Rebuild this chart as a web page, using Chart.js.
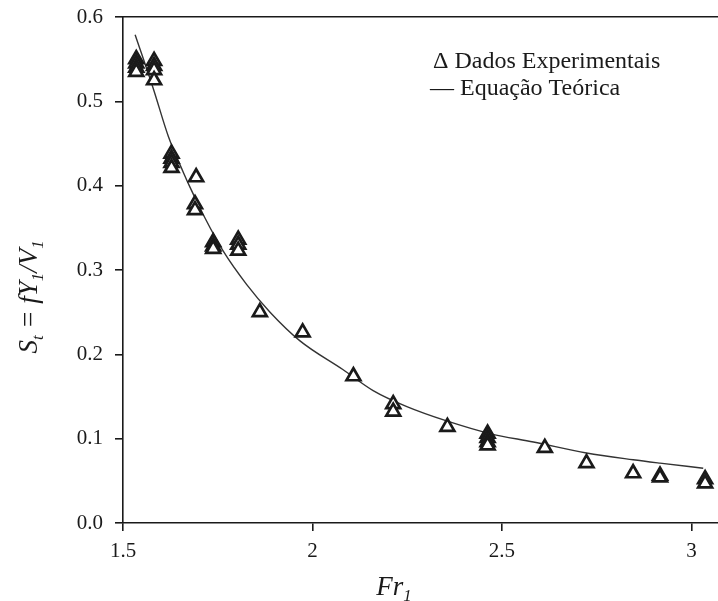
<!DOCTYPE html>
<html>
<head>
<meta charset="utf-8">
<script src="https://cdn.jsdelivr.net/npm/chart.js@4.4.1/dist/chart.umd.min.js"></script>
<style>
  html, body { margin: 0; padding: 0; background: #fff; }
  #wrap { width: 718px; height: 601px; }
</style>
</head>
<body>
<div id="wrap"><canvas id="myChart" width="718" height="601"></canvas></div>
<script>
// dados experimentais (Fr1, St)
const expFr = [1.535, 1.535, 1.535, 1.535, 1.582, 1.582, 1.582, 1.582,
               1.628, 1.628, 1.628, 1.628, 1.693, 1.690, 1.690,
               1.738, 1.738, 1.738, 1.804, 1.804, 1.804, 1.861, 1.974,
               2.108, 2.213, 2.213, 2.356, 2.462, 2.462, 2.462, 2.462,
               2.613, 2.723, 2.846, 2.917, 2.917, 3.036, 3.036];
const expSt = [0.550, 0.545, 0.540, 0.535, 0.548, 0.542, 0.537, 0.525,
               0.438, 0.432, 0.427, 0.421, 0.410, 0.378, 0.371,
               0.333, 0.328, 0.325, 0.336, 0.330, 0.323, 0.250, 0.226,
               0.174, 0.141, 0.132, 0.114, 0.106, 0.101, 0.096, 0.092,
               0.089, 0.071, 0.059, 0.056, 0.054, 0.052, 0.047];

// equação teórica
const curveFr = [1.532, 1.580, 1.620, 1.659, 1.677, 1.716, 1.765, 1.826, 1.888, 1.967,
                 2.080, 2.160, 2.249, 2.354, 2.468, 2.583, 2.723, 2.846, 2.917, 3.031];
const curveSt = [0.579, 0.515, 0.458, 0.416, 0.398, 0.362, 0.322, 0.283, 0.250, 0.216,
                 0.182, 0.157, 0.138, 0.121, 0.106, 0.096, 0.083, 0.075, 0.071, 0.065];

const xTicks = [1.5, 2, 2.5, 3];
const yTicks = [0, 0.1, 0.2, 0.3, 0.4, 0.5, 0.6];

const serif = "'Liberation Serif', 'Times New Roman', serif";
const ink = '#1a1a1a';

// desenha texto com subscritos
function drawRich(ctx, parts, size) {
    let total = 0;
    parts.forEach(p => {
        ctx.font = 'italic ' + (p.sub ? size * 0.62 : size) + 'px ' + serif;
        p.w = ctx.measureText(p.t).width;
        total += p.w;
    });
    let x = -total / 2;
    parts.forEach(p => {
        ctx.font = 'italic ' + (p.sub ? size * 0.62 : size) + 'px ' + serif;
        ctx.fillText(p.t, x, p.sub ? size * 0.22 : 0);
        x += p.w;
    });
}

const textPlugin = {
    id: 'textos',
    afterDraw(chart) {
        const ctx = chart.ctx;
        const area = chart.chartArea;
        ctx.save();
        ctx.fillStyle = ink;
        ctx.textBaseline = 'alphabetic';
        ctx.textAlign = 'left';

        // título eixo y
        ctx.save();
        ctx.translate(area.left - 86, area.top + 280);
        ctx.rotate(-Math.PI / 2);
        drawRich(ctx, [
            {t: 'S'}, {t: 't', sub: true}, {t: ' = fY'}, {t: '1', sub: true},
            {t: '/V'}, {t: '1', sub: true}
        ], 27);
        ctx.restore();

        // título eixo x
        ctx.save();
        ctx.translate(area.left + 271, area.bottom + 72);
        drawRich(ctx, [{t: 'Fr'}, {t: '1', sub: true}], 27);
        ctx.restore();

        // legenda
        ctx.font = '24px ' + serif;
        ctx.fillText('\u0394 Dados Experimentais', area.left + 310, area.top + 51);
        ctx.fillText('\u2014 Equação Teórica', area.left + 307, area.top + 78);
        ctx.restore();
    }
};

const ctx = document.getElementById('myChart').getContext('2d');
let chart = new Chart(ctx, {
    type: 'scatter',
    data: {
        datasets: [{
            label: 'Dados Experimentais',
            data: expFr.map((x, i) => ({x: x, y: expSt[i]})),
            pointStyle: 'triangle',
            pointRadius: 8,
            borderWidth: 2.7,
            borderColor: ink,
            backgroundColor: '#fff',
            order: 1
        }, {
            type: 'line',
            label: 'Equação Teórica',
            data: curveFr.map((x, i) => ({x: x, y: curveSt[i]})),
            borderColor: '#333',
            borderWidth: 1.4,
            pointRadius: 0,
            cubicInterpolationMode: 'monotone',
            fill: false,
            order: 2
        }]
    },
    options: {
        responsive: false,
        animation: false,
        layout: { autoPadding: false, padding: { top: 17, right: 0, left: 0, bottom: 0 } },
        plugins: { legend: { display: false }, tooltip: { enabled: false } },
        scales: {
            x: {
                type: 'linear', position: 'bottom', min: 1.5, max: 3.07,
                border: { display: true, color: ink, width: 1.6 },
                grid: { drawOnChartArea: false, drawTicks: true, tickLength: 8, color: ink, lineWidth: 1.6 },
                ticks: {
                    color: ink, padding: 8, maxRotation: 0, autoSkip: false,
                    font: { family: serif, size: 21 },
                    callback: v => String(v)
                },
                afterBuildTicks: s => { s.ticks = xTicks.map(v => ({value: v})); },
                afterFit: s => { s.height = 78; s.paddingRight = 0; s.paddingLeft = 0; }
            },
            x2: {
                type: 'linear', position: 'top', min: 1.5, max: 3.07,
                border: { display: true, color: ink, width: 1.6 },
                grid: { display: false, drawTicks: false },
                ticks: { display: false },
                afterFit: s => { s.height = 0; s.paddingRight = 0; s.paddingLeft = 0; }
            },
            y: {
                type: 'linear', min: 0, max: 0.6,
                border: { display: true, color: ink, width: 1.6 },
                grid: { drawOnChartArea: false, drawTicks: true, tickLength: 8, color: ink, lineWidth: 1.6 },
                ticks: {
                    color: ink, padding: 12,
                    font: { family: serif, size: 21 },
                    callback: v => v.toFixed(1)
                },
                afterBuildTicks: s => { s.ticks = yTicks.map(v => ({value: v})); },
                afterFit: s => { s.width = 123; s.paddingTop = 0; s.paddingBottom = 0; }
            }
        }
    },
    plugins: [textPlugin]
});
</script>
</body>
</html>
